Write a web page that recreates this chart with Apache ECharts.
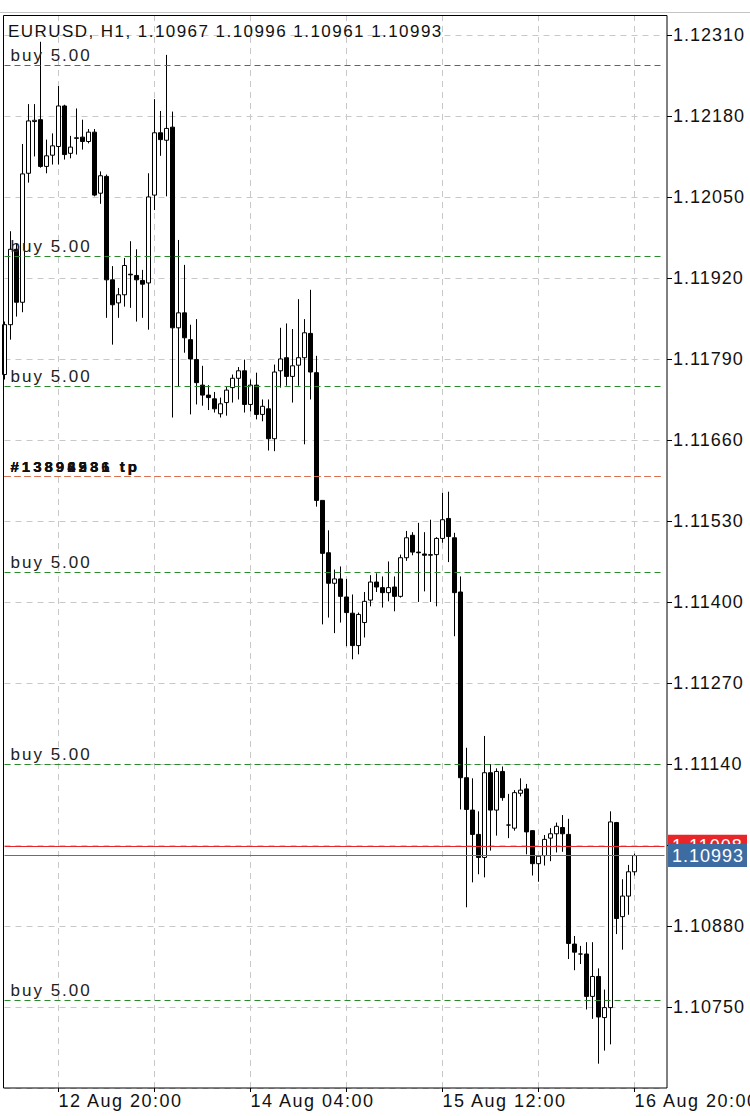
<!DOCTYPE html>
<html>
<head>
<meta charset="utf-8">
<script src="https://cdn.jsdelivr.net/npm/echarts@6/dist/echarts.min.js"></script>
<style>
html, body { margin: 0; padding: 0; background: #fff; }
#chart { width: 750px; height: 1116px; }
#chart text[style*="Helvetica"], #chart text[font-family*="Helvetica"] { letter-spacing: 1.45px; }
#chart text[style*="Arimo"], #chart text[font-family*="Arimo"] { letter-spacing: 2px; }
#chart text[style*="Tahoma"], #chart text[font-family*="Tahoma"] { letter-spacing: 3px; }
#chart text[style*="Arial"], #chart text[font-family*="Arial"] { letter-spacing: 1px; }
#chart text[style*="Verdana"], #chart text[font-family*="Verdana"] { letter-spacing: 1.5px; }
</style>
</head>
<body>
<div id="chart"></div>
<script>
// ---- time axis (hourly bars, first bar 12 Aug 11:00, plus empty future slots) ----
const START_DAY = 12, START_HOUR = 11, SLOTS = 111;
const categories = [];
for (let k = 0; k < SLOTS; k++) {
  const h = START_HOUR + k;
  categories.push((START_DAY + Math.floor(h / 24)) + ' Aug ' + String(h % 24).padStart(2, '0') + ':00');
}
const labelTimes = ['12 Aug 20:00', '14 Aug 04:00', '15 Aug 12:00', '16 Aug 20:00'];
const gridTimes = ['12 Aug 20:00', '13 Aug 12:00', '14 Aug 04:00', '14 Aug 20:00', '15 Aug 12:00', '16 Aug 04:00', '16 Aug 20:00'];

// ---- price axis ----
const yMin = 1.10620, yMax = 1.12342, yStep = 0.0013;

// ---- OHLC values ----
const opens = [
  1.11765, 1.11845, 1.11966, 1.11881, 1.12088, 1.12171, 1.12174, 1.12099, 1.12117, 1.12131,
  1.12196, 1.12120, 1.12144, 1.12146, 1.12139, 1.12154, 1.12056, 1.12083, 1.11917, 1.11880,
  1.11893, 1.11926, 1.11924, 1.11916, 1.11912, 1.12053, 1.12153, 1.12141, 1.12162, 1.11840,
  1.11864, 1.11821, 1.11789, 1.11748, 1.11732, 1.11726, 1.11702, 1.11720, 1.11744, 1.11759,
  1.11771, 1.11717, 1.11748, 1.11701, 1.11710, 1.11662, 1.11771, 1.11792, 1.11762, 1.11780,
  1.11792, 1.11831, 1.11768, 1.11563, 1.11479, 1.11430, 1.11437, 1.11408, 1.11382, 1.11330,
  1.11367, 1.11403, 1.11432, 1.11423, 1.11415, 1.11424, 1.11409, 1.11471, 1.11507, 1.11480,
  1.11477, 1.11475, 1.11476, 1.11502, 1.11534, 1.11503, 1.11416, 1.11118, 1.11066, 1.11027,
  1.10990, 1.11126, 1.11066, 1.11128, 1.11042, 1.11037, 1.11093, 1.11100, 1.11033, 1.10980,
  1.10993, 1.11021, 1.11028, 1.11038, 1.11027, 1.10851, 1.10835, 1.10835, 1.10767, 1.10799,
  1.10733, 1.10749, 1.11046, 1.10895, 1.10928, 1.10967
];
const highs = [
  1.11850, 1.11995, 1.11976, 1.12135, 1.12199, 1.12199, 1.12299, 1.12142, 1.12152, 1.12228,
  1.12198, 1.12148, 1.12192, 1.12174, 1.12159, 1.12159, 1.12091, 1.12086, 1.11939, 1.11904,
  1.11952, 1.11979, 1.11966, 1.11933, 1.12088, 1.12207, 1.12188, 1.12278, 1.12187, 1.11981,
  1.11941, 1.11845, 1.11854, 1.11779, 1.11748, 1.11737, 1.11728, 1.11745, 1.11765, 1.11777,
  1.11789, 1.11757, 1.11768, 1.11725, 1.11725, 1.11781, 1.11840, 1.11847, 1.11838, 1.11886,
  1.11854, 1.11901, 1.11795, 1.11563, 1.11515, 1.11452, 1.11457, 1.11437, 1.11412, 1.11383,
  1.11416, 1.11443, 1.11446, 1.11441, 1.11465, 1.11441, 1.11476, 1.11514, 1.11512, 1.11527,
  1.11512, 1.11532, 1.11504, 1.11575, 1.11577, 1.11511, 1.11441, 1.11166, 1.11117, 1.11064,
  1.11185, 1.11140, 1.11133, 1.11136, 1.11092, 1.11098, 1.11117, 1.11108, 1.11034, 1.10993,
  1.11026, 1.11037, 1.11046, 1.11058, 1.11052, 1.10864, 1.10848, 1.10854, 1.10854, 1.10812,
  1.10778, 1.11064, 1.11047, 1.10955, 1.10978, 1.10996
];
const lows = [
  1.11757, 1.11821, 1.11858, 1.11865, 1.12073, 1.12115, 1.12097, 1.12088, 1.12102, 1.12102,
  1.12110, 1.12112, 1.12118, 1.12126, 1.12136, 1.12051, 1.12039, 1.11856, 1.11813, 1.11856,
  1.11874, 1.11872, 1.11850, 1.11856, 1.11837, 1.12029, 1.12116, 1.12051, 1.11696, 1.11746,
  1.11800, 1.11701, 1.11717, 1.11715, 1.11708, 1.11704, 1.11696, 1.11699, 1.11720, 1.11725,
  1.11704, 1.11706, 1.11693, 1.11690, 1.11643, 1.11642, 1.11744, 1.11747, 1.11720, 1.11747,
  1.11653, 1.11725, 1.11553, 1.11364, 1.11375, 1.11350, 1.11367, 1.11329, 1.11308, 1.11316,
  1.11343, 1.11393, 1.11416, 1.11391, 1.11401, 1.11385, 1.11407, 1.11466, 1.11475, 1.11400,
  1.11417, 1.11400, 1.11393, 1.11495, 1.11464, 1.11345, 1.11067, 1.10910, 1.10950, 1.10963,
  1.10958, 1.11001, 1.11025, 1.11081, 1.11021, 1.11033, 1.11088, 1.10995, 1.10961, 1.10951,
  1.10977, 1.10984, 1.10998, 1.10999, 1.10827, 1.10809, 1.10819, 1.10746, 1.10731, 1.10659,
  1.10680, 1.10690, 1.10867, 1.10842, 1.10898, 1.10961
];
const closes = [
  1.11845, 1.11966, 1.11881, 1.12087, 1.12172, 1.12173, 1.12099, 1.12116, 1.12132, 1.12196,
  1.12118, 1.12130, 1.12145, 1.12139, 1.12154, 1.12053, 1.12084, 1.11917, 1.11877, 1.11893,
  1.11940, 1.11925, 1.11917, 1.11910, 1.12050, 1.12153, 1.12142, 1.12160, 1.11840, 1.11864,
  1.11824, 1.11790, 1.11752, 1.11732, 1.11728, 1.11710, 1.11718, 1.11740, 1.11759, 1.11771,
  1.11717, 1.11748, 1.11701, 1.11714, 1.11662, 1.11769, 1.11790, 1.11762, 1.11779, 1.11792,
  1.11832, 1.11769, 1.11563, 1.11478, 1.11430, 1.11437, 1.11409, 1.11383, 1.11330, 1.11380,
  1.11401, 1.11432, 1.11424, 1.11415, 1.11423, 1.11409, 1.11471, 1.11503, 1.11480, 1.11479,
  1.11475, 1.11476, 1.11502, 1.11532, 1.11505, 1.11415, 1.11118, 1.11067, 1.11027, 1.10990,
  1.11126, 1.11066, 1.11128, 1.11086, 1.11042, 1.11094, 1.11098, 1.11031, 1.10980, 1.10992,
  1.11019, 1.11028, 1.11040, 1.11028, 1.10852, 1.10838, 1.10835, 1.10767, 1.10799, 1.10734,
  1.10749, 1.11047, 1.10892, 1.10928, 1.10967, 1.10993
];

// ---- order / price lines ----
const buyLevels = [1.12261, 1.11955, 1.11746, 1.11447, 1.11139, 1.10761];
const buyText = 'buy 5.00';
const tpLevel = 1.11601;
const tpTexts = ['#13894531 tp', '#13892286 tp', '#13896931 tp'];
const askLevel = 1.11008;
const bidLevel = 1.10993;
const headerText = 'EURUSD, H1, 1.10967 1.10996 1.10961 1.10993';

// ---- build ----
const candles = opens.map((o, i) => [o, closes[i], lows[i], highs[i]]);

const buyLineStyle = { color: '#2b8a2b', type: [6, 4], width: 1, opacity: 1 };
const markData = [];
buyLevels.forEach(v => markData.push({
  yAxis: v,
  lineStyle: buyLineStyle,
  label: {
    show: true, position: 'insideStartTop', formatter: buyText, distance: [6, 1.5],
    fontSize: 17, fontFamily: '"Liberation Sans", Arimo', color: '#222'
  }
}));
tpTexts.forEach(t => markData.push({
  yAxis: tpLevel,
  lineStyle: { color: '#d9704f', type: [6, 4], width: 1 },
  label: {
    show: true, position: 'insideStartTop', formatter: t, distance: [6, 3],
    fontSize: 15, fontWeight: 'bold', fontFamily: '"Liberation Sans", Tahoma', color: '#111'
  }
}));
markData.push({
  yAxis: askLevel,
  lineStyle: { color: '#e8262a', type: 'solid', width: 1 },
  label: {
    show: true, position: 'end', distance: 3.5, formatter: p => p.value.toFixed(5),
    backgroundColor: '#e8262a', color: '#fff', padding: [2.5, 4, 2.5, 4], width: 71,
    fontSize: 18, lineHeight: 18, fontFamily: '"Liberation Sans", Arial'
  }
});
markData.push({
  yAxis: bidLevel,
  lineStyle: { color: '#5a7189', type: 'solid', width: 1 },
  label: {
    show: true, position: 'end', distance: 3.5, formatter: p => p.value.toFixed(5),
    backgroundColor: '#3d6ca3', color: '#fff', padding: [2.5, 4, 2.5, 4], width: 71,
    fontSize: 18, lineHeight: 18, fontFamily: '"Liberation Sans", Arial'
  }
});

const chart = echarts.init(document.getElementById('chart'), null, { renderer: 'svg', width: 750, height: 1116 });
chart.setOption({
  animation: false,
  backgroundColor: '#fff',
  grid: { left: 4.5, right: 85.5, top: 15, bottom: 28, show: false },
  xAxis: {
    type: 'category', data: categories, boundaryGap: false,
    axisLine: { show: false },
    axisTick: { show: true, interval: (i, v) => gridTimes.includes(v), length: 4, lineStyle: { color: '#000' } },
    axisLabel: {
      interval: (i, v) => labelTimes.includes(v), align: 'left', margin: 4,
      fontSize: 18, fontFamily: '"Liberation Sans", Verdana', color: '#111'
    },
    splitLine: { show: true, interval: (i, v) => gridTimes.includes(v), lineStyle: { color: '#c8c8c8', type: [6, 5] } }
  },
  yAxis: {
    type: 'value', position: 'right', offset: 2.5,
    min: yMin, max: yMax, interval: yStep,
    axisLine: { show: false },
    axisTick: { show: true, length: 5, lineStyle: { color: '#000' } },
    axisLabel: {
      margin: 6, fontSize: 18, fontFamily: '"Liberation Sans", Arial', color: '#111',
      showMinLabel: false, showMaxLabel: false, formatter: v => v.toFixed(5)
    },
    splitLine: { show: true, lineStyle: { color: '#c8c8c8', type: [6, 5] } }
  },
  graphic: [
    { type: 'line', shape: { x1: 0, y1: 12.5, x2: 750, y2: 12.5 }, style: { stroke: '#c4c4c4', lineWidth: 1 }, z: 100 },
    { type: 'rect', shape: { x: 3.5, y: 15.5, width: 663.5, height: 1072.5 }, style: { fill: 'none', stroke: '#000', lineWidth: 1 }, z: 100 },
    { type: 'text', x: 8, y: 31, style: { text: headerText, font: '17px "Liberation Sans", Helvetica', fill: '#111', verticalAlign: 'middle', align: 'left' }, z: 100 }
  ],
  series: [{
    type: 'candlestick',
    data: candles,
    barWidth: 4,
    itemStyle: {
      color: '#fff', color0: '#000', borderColor: '#000', borderColor0: '#000', borderColorDoji: '#000', borderWidth: 1
    },
    markLine: { symbol: ['none', 'none'], precision: 5, silent: true, animation: false, data: markData }
  }]
});
</script>
</body>
</html>
